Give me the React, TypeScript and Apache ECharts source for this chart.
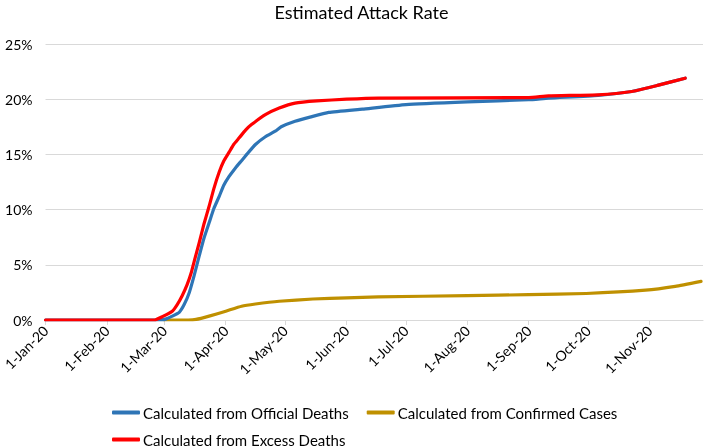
import React, { useEffect, useRef } from "react";
import * as echarts from "echarts";

// Day offsets from 1-Jan-2020 and attack-rate values (%)
const monthStartDays = [0, 31, 60, 91, 121, 152, 182, 213, 244, 274, 305];
const monthLabels = ["1-Jan-20", "1-Feb-20", "1-Mar-20", "1-Apr-20", "1-May-20", "1-Jun-20", "1-Jul-20", "1-Aug-20", "1-Sep-20", "1-Oct-20", "1-Nov-20"];
const yTicks = [0, 5, 10, 15, 20, 25];

const officialDeaths: [number, number][] = [
  [0, 0], [58, 0], [61, 0.1], [64, 0.35], [67.5, 0.7], [70, 1.4], [72.6, 2.5], [75, 4.0], [77.6, 5.8], [80, 7.4], [82.6, 8.8],
  [85, 10.1], [87.7, 11.2], [90, 12.2], [92.7, 13.0], [96, 13.8], [99.3, 14.5], [103, 15.3], [106, 15.9], [111, 16.6],
  [116, 17.1], [119, 17.5], [126, 18.0], [134, 18.4], [143, 18.8], [160, 19.1], [182, 19.5], [213, 19.75],
  [244, 19.95], [254, 20.1], [279, 20.35], [296, 20.7], [309, 21.25], [323, 21.9],
];
const confirmedCases: [number, number][] = [
  [60, 0], [72, 0], [76, 0.05], [82.6, 0.35], [91, 0.8], [99, 1.25], [106, 1.45], [118, 1.7], [135, 1.9],
  [152, 2.0], [168, 2.1], [213, 2.2], [244, 2.3], [273, 2.4], [303, 2.7], [318, 3.05], [331, 3.5],
];
const excessDeaths: [number, number][] = [
  [0, 0], [55, 0], [59, 0.3], [64, 0.8], [66.5, 1.4], [69, 2.2], [71.5, 3.2], [73.6, 4.3], [75.5, 5.6], [77.6, 7.0], [80, 8.7],
  [82.6, 10.3], [85, 11.9], [87.7, 13.4], [90, 14.4], [92.7, 15.2], [95, 15.9], [97.8, 16.5], [101, 17.2], [104, 17.7],
  [111, 18.6], [118, 19.2], [126, 19.65], [137, 19.85], [152, 20.0], [168, 20.1], [244, 20.15],
  [254, 20.3], [279, 20.4], [296, 20.7], [309, 21.25], [323, 21.9],
];

const FONT = "Lato";

export default function App() {
  const ref = useRef<HTMLDivElement>(null);
  useEffect(() => {
    if (!ref.current) return;
    const chart = echarts.init(ref.current, null, { renderer: "svg" });
    const lineSeries = (name: string, data: [number, number][], color: string, z: number) => ({
      name,
      type: "line",
      data,
      showSymbol: false,
      symbol: "none",
      smooth: 0.15,
      z,
      lineStyle: { color, width: 3.2, cap: "round", join: "round" },
      itemStyle: { color },
    });
    const legendText = { fontFamily: FONT, fontSize: 15, color: "#000", padding: [0, 0, 0, -2] };
    chart.setOption({
      animation: false,
      title: {
        text: "Estimated Attack Rate",
        left: "center",
        top: 3,
        padding: 0,
        textStyle: { fontFamily: FONT, fontSize: 18, fontWeight: "normal", color: "#000" },
      },
      grid: { left: 45, right: 20, top: 44, bottom: 128, containLabel: false },
      xAxis: {
        type: "value",
        min: 0,
        max: 332,
        axisLine: { show: true, lineStyle: { color: "#d9d9d9", width: 1 } },
        axisTick: { show: true, customValues: monthStartDays, length: 5, lineStyle: { color: "#d9d9d9" } },
        axisLabel: {
          customValues: monthStartDays,
          rotate: 45,
          fontFamily: FONT,
          fontSize: 14,
          color: "#000",
          margin: 8,
          formatter: (v: number) => {
            const i = monthStartDays.indexOf(Math.round(v));
            return i >= 0 ? monthLabels[i] : "";
          },
        },
        splitLine: { show: false },
      },
      yAxis: {
        type: "value",
        min: yTicks[0],
        max: yTicks[yTicks.length - 1],
        interval: 5,
        axisLine: { show: false },
        axisTick: { show: false },
        axisLabel: { fontFamily: FONT, fontSize: 14, color: "#000", margin: 13, formatter: (v: number) => v + "%" },
        splitLine: { lineStyle: { color: "#d9d9d9", width: 1 } },
      },
      legend: [
        {
          data: ["Calculated from Official Deaths", "Calculated from Confirmed Cases"],
          left: 112,
          top: 405,
          padding: 0,
          icon: "roundRect",
          itemWidth: 28,
          itemHeight: 4,
          itemGap: 18,
          textStyle: legendText,
        },
        {
          data: ["Calculated from Excess Deaths"],
          left: 112,
          top: 432,
          padding: 0,
          icon: "roundRect",
          itemWidth: 28,
          itemHeight: 4,
          textStyle: legendText,
        },
      ],
      series: [
        lineSeries("Calculated from Confirmed Cases", confirmedCases, "#bf9000", 2),
        lineSeries("Calculated from Official Deaths", officialDeaths, "#2e75b6", 3),
        lineSeries("Calculated from Excess Deaths", excessDeaths, "#ff0000", 4),
      ],
    });
    return () => chart.dispose();
  }, []);
  return <div ref={ref} style={{ position: "fixed", left: 0, top: 0, width: 723, height: 448 }} />;
}
